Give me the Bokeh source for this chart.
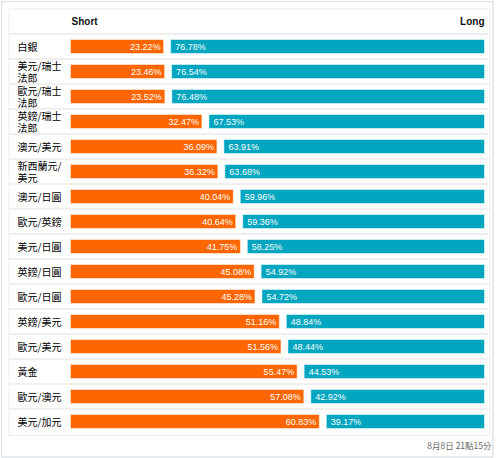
from bokeh.plotting import figure
from bokeh.models import Range1d, ColumnDataSource
from bokeh.core.properties import value
from bokeh.embed import file_html
from bokeh.resources import INLINE

categories = ["白銀", "美元/瑞士法郎", "歐元/瑞士法郎", "英鎊/瑞士法郎", "澳元/美元", "新西蘭元/美元",
              "澳元/日圓", "歐元/英鎊", "美元/日圓", "英鎊/日圓", "歐元/日圓", "英鎊/美元",
              "歐元/美元", "黃金", "歐元/澳元", "美元/加元"]
short_pct = [23.22, 23.46, 23.52, 32.47, 36.09, 36.32, 40.04, 40.64, 41.75, 45.08,
             45.28, 51.16, 51.56, 55.47, 57.08, 60.83]
long_pct = [76.78, 76.54, 76.48, 67.53, 63.91, 63.68, 59.96, 59.36, 58.25, 54.92,
            54.72, 48.84, 48.44, 44.53, 42.92, 39.17]
header_left = "Short"
header_right = "Long"
footer_text = "8月8日 21點15分"

ORANGE = "#ff6600"
TEAL = "#00a5c0"

W, H = 500, 458
PX0, PX1 = 0, 500          # page x covered by figure
PY0 = 0
ROW0, PITCH = 46, 25       # page y of first row centre, row pitch
BAR_X0, BAR_X1 = 70, 484   # pixel span of 0..100 %
K = (BAR_X1 - BAR_X0) / 100.0

def y_of(px):
    return (px - ROW0) / PITCH

p = figure(width=W, height=H, output_backend="svg", toolbar_location=None,
           x_range=Range1d(PX0, PX1),
           y_range=Range1d(y_of(PY0 + H), y_of(PY0)),
           min_border=0, outline_line_color=None)
p.xaxis.visible = False
p.yaxis.visible = False
p.grid.visible = False
p.background_fill_color = "white"
p.border_fill_color = "white"

p.extra_x_ranges = {"pct": Range1d(-(BAR_X0 - PX0) / K, 100 + (PX1 - BAR_X1) / K)}

n = len(categories)
rows = list(range(n))

# outer frame
p.quad(left=[1], right=[492.5], top=[y_of(1)], bottom=[y_of(456.5)],
       fill_color="white", line_color="#dfe5e8", line_width=1.5)

# table border
p.quad(left=[8.5], right=[489.5], top=[y_of(8.5)], bottom=[y_of(435)],
       fill_color="white", line_color="#ececec", line_width=1)

# row separators
seps = [i + 0.5 for i in range(-1, n - 1)]
p.segment(x0=[8.5] * len(seps), x1=[489.5] * len(seps), y0=seps, y1=seps,
          line_color="#efefef", line_width=2)

total = [s + l for s, l in zip(short_pct, long_pct)]
src = ColumnDataSource(dict(
    y=rows,
    short=short_pct,
    long=long_pct,
    total=total,
    short_end=[s - 3 / K for s in short_pct],
    long_start=[s + 4 / K for s in short_pct],
    short_lbl=[f"{v:.2f}%" for v in short_pct],
    long_lbl=[f"{v:.2f}%" for v in long_pct],
    cat=[c if len(c) <= 5 else c[:5] + "\n" + c[5:] for c in categories],
))

bh = 14 / PITCH
p.hbar(y="y", left=0, right="short_end", height=bh, source=src, x_range_name="pct",
       fill_color=ORANGE, line_color="white", line_alpha=0.5, line_width=1)
p.hbar(y="y", left="long_start", right="total", height=bh, source=src, x_range_name="pct",
       fill_color=TEAL, line_color="white", line_alpha=0.5, line_width=1)

p.text(x="short", y="y", text="short_lbl", source=src, x_range_name="pct",
       x_offset=-6, text_align="right", text_baseline="middle",
       text_color="white", text_font=value("Liberation Sans"), text_font_size="9px")
p.text(x="short", y="y", text="long_lbl", source=src, x_range_name="pct",
       x_offset=8.5, text_align="left", text_baseline="middle",
       text_color="white", text_font=value("Liberation Sans"), text_font_size="9px")

# category labels
p.text(x=17, y="y", text="cat", source=src, text_align="left", text_baseline="middle",
       text_color="#000000", text_font=value("Noto Sans CJK TC"), text_font_size="10px",
       text_line_height=0.77)

# header
p.text(x=[71], y=[y_of(20.5)], text=[header_left], text_align="left", text_baseline="middle",
       text_color="#111111", text_font=value("Liberation Sans"), text_font_size="10px",
       text_font_style="bold")
p.text(x=[484], y=[y_of(20.5)], text=[header_right], text_align="right", text_baseline="middle",
       text_color="#111111", text_font=value("Liberation Sans"), text_font_size="10px",
       text_font_style="bold")

# footer
p.text(x=[491], y=[y_of(444.5)], text=[footer_text], text_align="right", text_baseline="middle",
       text_color="#666666", text_font=value("Noto Sans CJK TC"), text_font_size="8.5px")

open("out.html", "w").write(file_html(p, INLINE))
